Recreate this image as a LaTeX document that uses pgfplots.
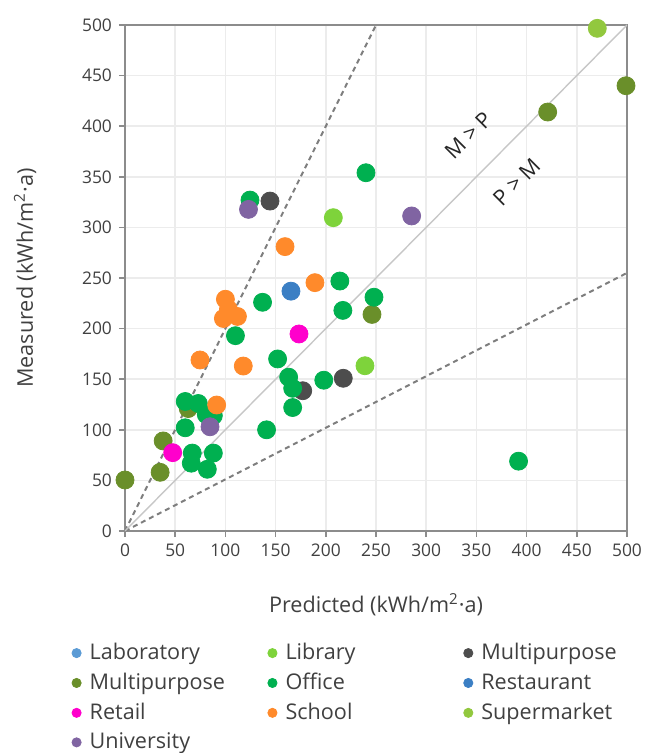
\documentclass[border=0pt]{standalone}
\usepackage{pgfplots}
\pgfplotsset{compat=1.18}
\usepackage{fontspec}
\setmainfont{Open Sans}
\definecolor{labc}{HTML}{5B9BD5}
\definecolor{libc}{HTML}{7ED33B}
\definecolor{mpg}{HTML}{4D4D4D}
\definecolor{mpo}{HTML}{6A8F2A}
\definecolor{offc}{HTML}{00B050}
\definecolor{resc}{HTML}{3B7FC4}
\definecolor{retc}{HTML}{FF00CC}
\definecolor{schc}{HTML}{FF8A2B}
\definecolor{supc}{HTML}{92C83E}
\definecolor{unic}{HTML}{8064A2}
\definecolor{gridc}{HTML}{ECECEC}
\definecolor{axc}{HTML}{8C8C8C}
\definecolor{textc}{HTML}{404040}
\begin{document}
\begin{tikzpicture}
\begin{axis}[
  scale only axis, width=251pt, height=253pt,
  xmin=0, xmax=500, ymin=0, ymax=500,
  xtick={0,50,...,500}, ytick={0,50,...,500},
  grid=major, major grid style={color=gridc, line width=0.8pt},
  axis line style={color=axc, line width=1pt},
  tick style={color=axc, line width=0.8pt},
  tick align=outside, major tick length=3pt, tick pos=left,
  ticklabel style={font=\fontsize{8.7}{10}\selectfont, text=textc},
  /pgf/number format/assume math mode=true,
  xlabel={Predicted (kWh/m\textsuperscript{2}·a)},
  ylabel={Measured (kWh/m\textsuperscript{2}·a)},
  xlabel style={font=\fontsize{10.8}{12}\selectfont, text=textc, at={(axis description cs:0.5,-0.146)}, anchor=center},
  ylabel style={font=\fontsize{10.8}{12}\selectfont, text=textc, at={(axis description cs:-0.199,0.5)}, anchor=center},
  legend columns=3,
  legend cell align=left,
  legend style={at={(axis description cs:-0.1207,-0.2154)}, anchor=north west, draw=none, fill=none,
    font=\fontsize{10.8}{12}\selectfont, text=textc, column sep=0pt, row sep=2.2pt, inner sep=0pt,
    nodes={inner sep=1.5pt}},
  legend image code/.code={\path (0cm,0cm) (0.37cm,0cm); \draw[mark repeat=2,mark phase=2,#1] plot coordinates {(0cm,0cm)(0.2cm,0cm)(0.37cm,0cm)};},
  legend image post style={mark size=2.3pt},
  every axis plot/.append style={only marks, mark=*, mark size=4.5pt},
]
\addlegendimage{only marks, mark=*, color=labc}
\addlegendentry{\makebox[84pt][l]{Laboratory}}
\addplot[color=libc] coordinates {(207.5,309.6) (239,163.3)};
\addlegendentry{\makebox[84pt][l]{Library}}
\addplot[color=mpg] coordinates {(144.4,326) (217.4,150.9) (177,138.6)};
\addlegendentry{Multipurpose}
\addplot[color=mpo] coordinates {(0,50.4) (38,89) (35,58) (63,121) (246,214) (421,414) (499,440)};
\addlegendentry{\makebox[84pt][l]{Multipurpose}}
\addplot[color=offc] coordinates {
(60,128) (73,126) (81,115) (88,114) (60,102) (67,77) (66,67) (88,77) (82,61)
(110,193) (137,226) (124.5,327) (152,170) (163,152) (167,141) (167,122) (141,100)
(198,149) (214,247) (217,218) (248,231) (240,354) (392,69)};
\addlegendentry{\makebox[84pt][l]{Office}}
\addplot[color=resc] coordinates {(165.3,237)};
\addlegendentry{Restaurant}
\addplot[color=retc] coordinates {(47.5,77.4) (173.3,194.7)};
\addlegendentry{\makebox[84pt][l]{Retail}}
\addplot[color=schc] coordinates {(100,229) (103,219) (98,210) (112,212) (159.4,281) (189.2,245.4) (74.7,169) (117.8,163) (91.3,124.5)};
\addlegendentry{\makebox[84pt][l]{School}}
\addplot[color=supc] coordinates {(470.4,496.7)};
\addlegendentry{Supermarket}
\addplot[color=unic] coordinates {(84.7,103) (123,317.8) (285.5,311.3)};
\addlegendentry{\makebox[84pt][l]{University}}
\addplot[forget plot, no marks, sharp plot, color=axc!90!black, line width=1pt, dash pattern=on 2.5pt off 2pt] coordinates {(0,0) (250,500)};
\addplot[forget plot, no marks, sharp plot, color=axc!90!black, line width=1pt, dash pattern=on 2.5pt off 2pt] coordinates {(0,0) (500,255)};
\addplot[forget plot, no marks, sharp plot, color=black!22, line width=0.7pt] coordinates {(0,0) (500,500)};
\node[rotate=45, font=\fontsize{10.8}{12}\selectfont, text=black!85] at (axis cs:342,391) {M > P};
\node[rotate=45, font=\fontsize{10.8}{12}\selectfont, text=black!85] at (axis cs:390,345) {P > M};
\end{axis}
\pgfresetboundingbox
\path[use as bounding box] ([shift={(-62.5pt,-111pt)}]current axis.south west) rectangle ([shift={(9.5pt,12.5pt)}]current axis.north east);
\end{tikzpicture}
\end{document}
